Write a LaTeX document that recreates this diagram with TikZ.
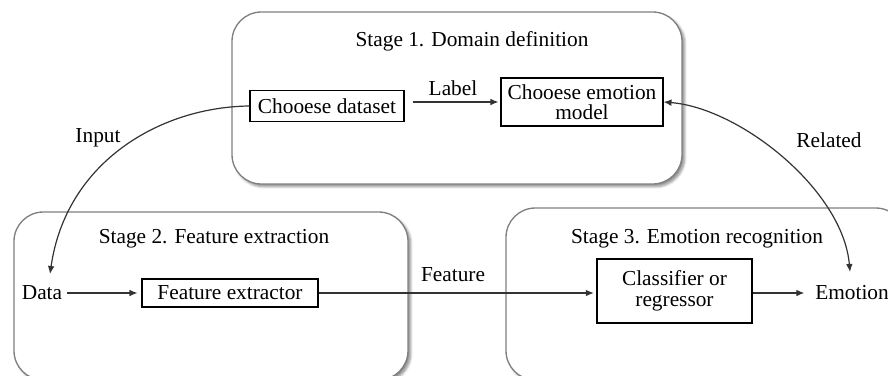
\documentclass[tikz,border=0pt]{standalone}
\usepackage{fontspec}
\setmainfont{Liberation Serif}
\usetikzlibrary{arrows.meta,shadows.blur}
\begin{document}
\begin{tikzpicture}[x=0.75pt,y=-0.75pt,
  font=\fontsize{16}{18}\selectfont,
  stagebox/.style={draw=black!50,line width=1pt,rounded corners=22pt,fill=white,
     blur shadow={shadow xshift=2pt,shadow yshift=-2pt,shadow blur steps=6,shadow opacity=45}},
  procbox/.style={draw=black,line width=0.8pt,fill=white,inner sep=0pt,align=center},
  conn/.style={draw=black!80,line width=0.9pt,-{Latex[length=6pt,width=5pt]}},
  plain/.style={inner sep=0pt}]
\useasboundingbox (0,0) rectangle (888,375);
\clip (0,0) rectangle (888,375);
% stage boxes
\path[stagebox] (232,12) rectangle (682,184);
\path[stagebox] (14,212) rectangle (408,380);
\path[stagebox] (506,208) rectangle (905,380);
% titles
\node[plain] (t1) at (472,41) {Stage 1. Domain definition};
\node[plain] (t2) at (214,239) {Stage 2. Feature extraction};
\node[plain] (t3) at (697,239) {Stage 3. Emotion recognition};
% process boxes
\node[procbox,minimum width=154*0.75pt,minimum height=31*0.75pt] (ds) at (327,106) {Chooese dataset};
\node[procbox,minimum width=162*0.75pt,minimum height=48*0.75pt] (em) at (582,102) {Chooese emotion\\[-3pt]model};
\node[procbox,minimum width=176*0.75pt,minimum height=28*0.75pt] (fe) at (230,293) {Feature extractor};
\node[procbox,minimum width=155*0.75pt,minimum height=64*0.75pt] (cl) at (674.5,291) {Classifier or\\[-2pt]regressor};
% free text
\node[plain] (data) at (42,293) {Data};
\node[plain] (emo) at (852,293) {Emotion};
\node[plain] (lab) at (453,88) {Label};
\node[plain] (inp) at (98,138) {Input};
\node[plain] (rel) at (829,140) {Related};
\node[plain] (feat) at (453,275) {Feature};
% connectors
\draw[conn,shorten >=1.5pt] (ds.east) ++(8,-4) coordinate (ls) -- (ls -| em.west);
\draw[conn] (ds.west) .. controls (160,107) and (66,162) .. (50,274) coordinate (dtop);
\draw[conn,{Latex[length=6pt,width=5pt]}-{Latex[length=6pt,width=5pt]}] (em.east) .. controls (740,108) and (843,190) .. (850,272) coordinate (etop);
\draw[conn,shorten >=3pt] (data.east) ++(5,0) coordinate (da) -- (fe.west);
\draw[conn,shorten >=2pt] (fe.east) -- (fe.east -| cl.west);
\draw[conn,shorten >=8pt] (cl.east |- emo.west) -- (emo.west);
\end{tikzpicture}
\end{document}
